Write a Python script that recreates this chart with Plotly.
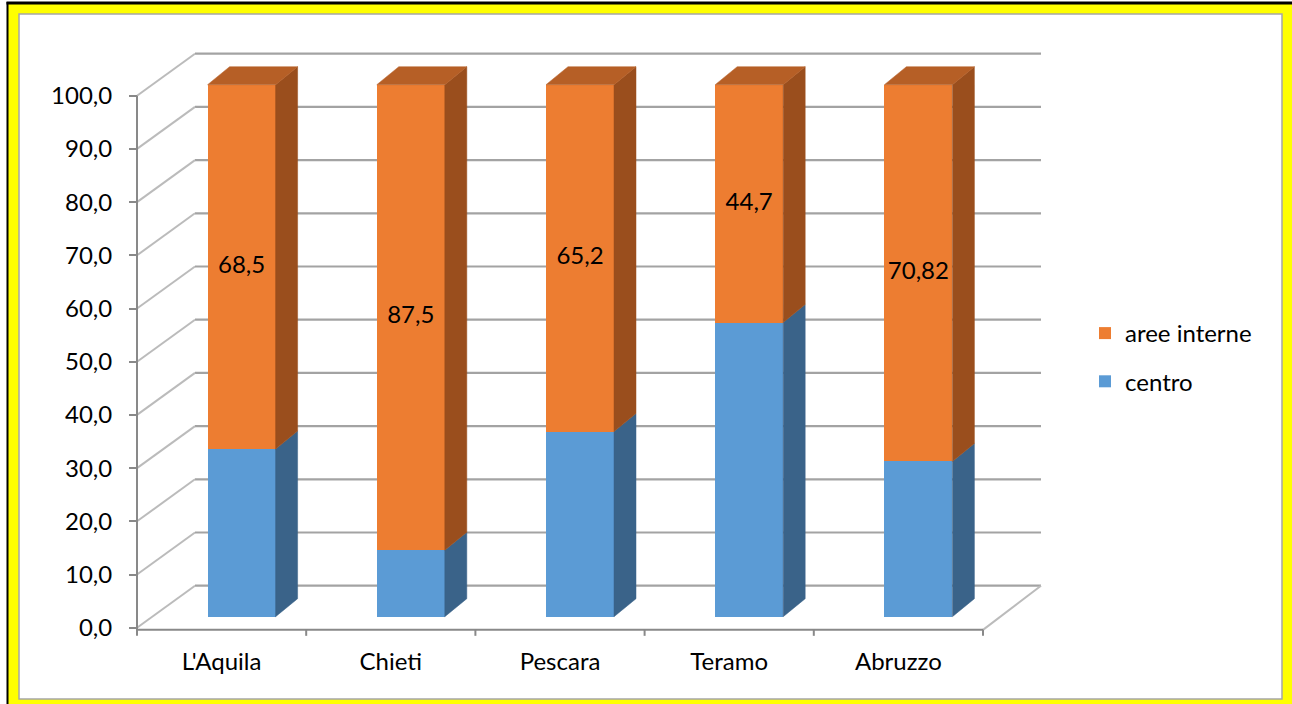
import plotly.graph_objects as go

# ---------------- data ----------------
categories = ["L'Aquila", "Chieti", "Pescara", "Teramo", "Abruzzo"]
aree_interne = [68.5, 87.5, 65.2, 44.7, 70.82]
centro = [31.5, 12.5, 34.8, 55.3, 29.18]
y_ticks = [0, 10, 20, 30, 40, 50, 60, 70, 80, 90, 100]
y_tick_labels = [f"{v:.1f}".replace(".", ",") for v in y_ticks]
aree_labels = [f"{v}".replace(".", ",") for v in aree_interne]

# ---------------- geometry / style constants (pixels) ----------------
FIG_W, FIG_H = 1292, 704
L, R_PX, T, B_PX = 120, 1060, 40, 640
W, H = R_PX - L, B_PX - T
SX, SY = 169.2, 5.32          # px per category, px per value unit
FRONT_X0 = 137                # px of x = -0.5 on the front plane
ZERO_Y = 627.7                # px of value 0 on the front plane

xmin = -0.5 - (FRONT_X0 - L) / SX
xmax = xmin + W / SX
ymin = -(B_PX - ZERO_Y) / SY
ymax = ymin + H / SY

BACK_DX, BACK_DY = 58 / SX, 42 / SY     # depth of the walls
BAR_DX, BAR_DY = 20 / SX, 11 / SY       # bar front face offset
HALF_W = 34 / SX                        # half bar width
SIDE_DX, SIDE_DY = 22 / SX, 18 / SY     # bar depth

ORANGE, ORANGE_SIDE, ORANGE_TOP = "#ED7D31", "#9A4E1D", "#B65F26"
BLUE, BLUE_SIDE = "#5B9BD5", "#3A6389"
AXIS_C = "#898989"
GRID_C = "#A3A3A3"
WALL_C = "#BBBBBB"
FONT = "Lato"
FS = 24

n = len(categories)
idx = list(range(n))
x_left, x_right = -0.5, n - 0.5

fig = go.Figure()

# ---------------- walls / floor (front-plane axes) ----------------
gx, gy = [], []
for v in y_ticks:
    gx += [x_left + BACK_DX, x_right + BACK_DX, None]
    gy += [v + BACK_DY, v + BACK_DY, None]
fig.add_trace(go.Scatter(x=gx, y=gy, mode="lines", line=dict(color=GRID_C, width=2.2),
                         hoverinfo="skip", showlegend=False))
dx_, dy_ = [], []
for v in y_ticks:
    dx_ += [x_left, x_left + BACK_DX, None]
    dy_ += [v, v + BACK_DY, None]
dx_ += [x_right, x_right + BACK_DX, None]
dy_ += [-0.4, BACK_DY, None]
fig.add_trace(go.Scatter(x=dx_, y=dy_, mode="lines", line=dict(color=WALL_C, width=2),
                         hoverinfo="skip", showlegend=False))
# front floor line, vertical axis line, x boundary ticks
ax_x = [x_left, x_right, None, x_left, x_left, None]
ax_y = [-0.4, -0.4, None, -1.0, 100, None]
for k in range(n + 1):
    ax_x += [x_left + k, x_left + k, None]
    ax_y += [-0.4, -0.4 - 6 / SY, None]
fig.add_trace(go.Scatter(x=ax_x, y=ax_y, mode="lines", line=dict(color=AXIS_C, width=2),
                         hoverinfo="skip", showlegend=False))

# ---------------- bars (bar-plane axes) ----------------
fig.add_trace(go.Bar(x=idx, y=centro, name="centro", marker=dict(color=BLUE, line=dict(width=0)),
                     width=2 * HALF_W, xaxis="x2", yaxis="y2", legendgroup="c", legendrank=2))
fig.add_trace(go.Bar(x=idx, y=aree_interne, name="aree interne",
                     marker=dict(color=ORANGE, line=dict(width=0)),
                     width=2 * HALF_W, xaxis="x2", yaxis="y2", legendgroup="a", legendrank=1))

def poly(xs, ys, color):
    fig.add_trace(go.Scatter(x=xs + [xs[0]], y=ys + [ys[0]], mode="lines", fill="toself",
                             fillcolor=color, line=dict(color=color, width=0.5),
                             xaxis="x2", yaxis="y2", hoverinfo="skip", showlegend=False))

for i in idx:
    xr = i + HALF_W
    xl = i - HALF_W
    c = centro[i]
    top = centro[i] + aree_interne[i]
    poly([xr, xr + SIDE_DX, xr + SIDE_DX, xr], [0, SIDE_DY, c + SIDE_DY, c], BLUE_SIDE)
    poly([xr, xr + SIDE_DX, xr + SIDE_DX, xr], [c, c + SIDE_DY, top + SIDE_DY, top], ORANGE_SIDE)
    poly([xl, xl + SIDE_DX, xr + SIDE_DX, xr], [top, top + SIDE_DY, top + SIDE_DY, top], ORANGE_TOP)

fig.add_trace(go.Scatter(x=idx, y=[centro[i] + aree_interne[i] / 2 for i in idx],
                         mode="text", text=aree_labels,
                         textfont=dict(family=FONT, size=FS, color="black"),
                         xaxis="x2", yaxis="y2", hoverinfo="skip", showlegend=False))

# ---------------- frame ----------------
def pxx(p):
    return (p - L) / W

def pxy(p):
    return (B_PX - p) / H

shapes = [
    dict(type="rect", xref="paper", yref="paper", x0=pxx(8), x1=pxx(FIG_W + 2),
         y0=pxy(FIG_H + 2), y1=pxy(3), fillcolor="#FFFF00", line=dict(width=0), layer="below"),
    dict(type="line", xref="paper", yref="paper", x0=pxx(6.5), x1=pxx(FIG_W + 2),
         y0=pxy(3), y1=pxy(3), line=dict(color="black", width=3), layer="below"),
    dict(type="line", xref="paper", yref="paper", x0=pxx(7.5), x1=pxx(7.5),
         y0=pxy(2), y1=pxy(FIG_H + 2), line=dict(color="black", width=2), layer="below"),
    dict(type="rect", xref="paper", yref="paper", x0=pxx(19), x1=pxx(1282),
         y0=pxy(699), y1=pxy(14), fillcolor="white", line=dict(color="#A6A6A6", width=1.5),
         layer="below"),
]

fig.update_layout(
    width=FIG_W, height=FIG_H,
    margin=dict(l=L, r=FIG_W - R_PX, t=T, b=FIG_H - B_PX, autoexpand=False),
    paper_bgcolor="white", plot_bgcolor="rgba(0,0,0,0)",
    barmode="stack", bargap=0,
    font=dict(family=FONT, size=FS, color="black"),
    shapes=shapes,
    xaxis=dict(range=[xmin, xmax], tickvals=idx, ticktext=categories, showgrid=False,
               zeroline=False, showline=False, ticks="", tickfont=dict(size=FS, color="black"),
               ticklabelstandoff=5, fixedrange=True),
    yaxis=dict(range=[ymin, ymax], tickvals=y_ticks, ticktext=y_tick_labels, showgrid=False,
               zeroline=False, showline=False, ticks="outside", ticklen=8, tickwidth=2,
               tickcolor=AXIS_C, anchor="free", position=pxx(FRONT_X0),
               tickfont=dict(size=FS, color="black"), ticklabelstandoff=12, fixedrange=True),
    xaxis2=dict(range=[xmin - BAR_DX, xmax - BAR_DX], overlaying="x", visible=False,
                fixedrange=True),
    yaxis2=dict(range=[ymin - BAR_DY, ymax - BAR_DY], overlaying="y", visible=False,
                fixedrange=True),
    legend=dict(x=pxx(1085), y=pxy(311), xanchor="left", yanchor="top",
                traceorder="grouped", tracegroupgap=14,
                font=dict(family=FONT, size=FS, color="black"), bgcolor="rgba(0,0,0,0)"),
    showlegend=True,
)

fig.write_html("out.html")
